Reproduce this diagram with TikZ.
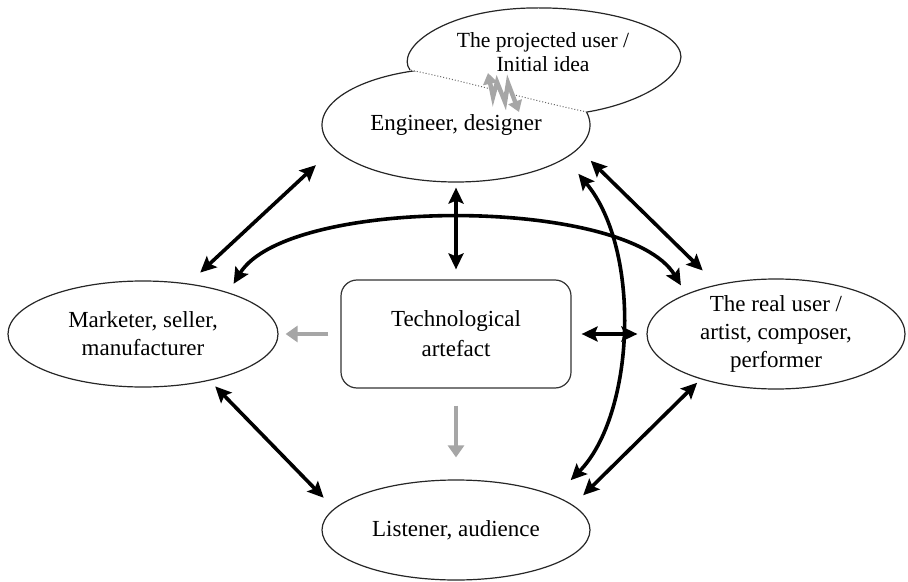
\documentclass[tikz,border=0pt]{standalone}
\usepackage{fontspec}
\setmainfont{Liberation Serif}
\usetikzlibrary{shapes.geometric,arrows.meta}

\begin{document}
\begin{tikzpicture}[x=0.5pt,y=-0.5pt,
    party/.style={ellipse,draw=black!85,line width=0.6pt,fill=white,inner sep=0pt,
      align=center,font=\fontsize{11.5}{14}\selectfont},
    link/.style={{Stealth[length=8pt,width=7.5pt,inset=1.5pt]}-{Stealth[length=8pt,width=7.5pt,inset=1.5pt]},
      line width=1.8pt},
    grey/.style={-{Triangle[length=6pt,width=8pt]},line width=2.2pt,draw=black!35},
    zig/.style={{Triangle[length=5.5pt,width=7pt]}-{Triangle[length=5.5pt,width=7pt]},
      line width=2.2pt,draw=black!35,line join=miter}]
  \useasboundingbox (0,0) rectangle (908,582);
  %actors
  \node[party,minimum width=134pt,minimum height=57pt] (eng) at (456,125) {Engineer, designer};
  \node[party,minimum width=135pt,minimum height=53pt] (mkt) at (143,334) {Marketer, seller,\\manufacturer};
  \node[party,minimum width=129pt,minimum height=55pt] (real) at (776,334) {The real user /\\artist, composer,\\performer};
  \node[party,minimum width=134pt,minimum height=50pt] (lis) at (456,530) {Listener, audience};
  \node[draw=black!80,line width=0.6pt,rounded corners=8pt,minimum width=115pt,minimum height=54pt,
    align=center,font=\fontsize{11.5}{15}\selectfont] (tech) at (456,334) {Technological\\artefact};
  %projected user, partly covering the engineer
  \fill[white] (410,70) .. controls (395,50) and (440,10) .. (530,8) .. controls (620,6) and (690,35) .. (680,62)
    .. controls (672,85) and (630,105) .. (587,112) .. controls (530,100) and (460,80) .. (410,70);
  \draw[black!85,line width=0.6pt] (410,70) .. controls (395,50) and (440,10) .. (530,8)
    .. controls (620,6) and (690,35) .. (680,62) .. controls (672,85) and (630,105) .. (587,112);
  \draw[densely dotted,black!60,line width=0.5pt] (587,112) .. controls (530,100) and (460,80) .. (410,70);
  \node[align=center,font=\fontsize{10.8}{12}\selectfont] (proj) at (543,52) {The projected user /\\Initial idea};
  \draw[zig] (488,73) -- (493,97) -- (497,82) -- (505,102) -- (508,83) -- (519,112);
  %two-way links
  \draw[link,shorten <=12pt,shorten >=8pt] (eng.191) -- (mkt.48);
  \draw[link,shorten <=5pt,shorten >=5pt] (mkt.26) .. controls (287,196) and (627,196) .. (real.156);
  \draw[link,shorten <=2.5pt,shorten >=5pt] (eng.south) -- (tech.north);
  \draw[link,shorten <=8.5pt,shorten >=10pt] (eng.349) -- (real.140);
  \draw[link,shorten <=10pt,shorten >=11pt] (eng.343) .. controls (642,250) and (635,415) .. (lis.19);
  \draw[link,shorten <=5pt,shorten >=4.5pt] (tech.east) -- (real.west);
  \draw[link,shorten <=4pt,shorten >=7.5pt] (mkt.325) -- (lis.170);
  \draw[link,shorten <=2.5pt,shorten >=7pt] (real.211) -- (lis.12);
  %artefact reaching out
  \draw[grey,shorten <=6pt,shorten >=3.5pt] (tech.west) -- (mkt.east);
  \draw[grey,shorten <=8.5pt,shorten >=11pt] (tech.south) -- (lis.north);
\end{tikzpicture}
\end{document}
